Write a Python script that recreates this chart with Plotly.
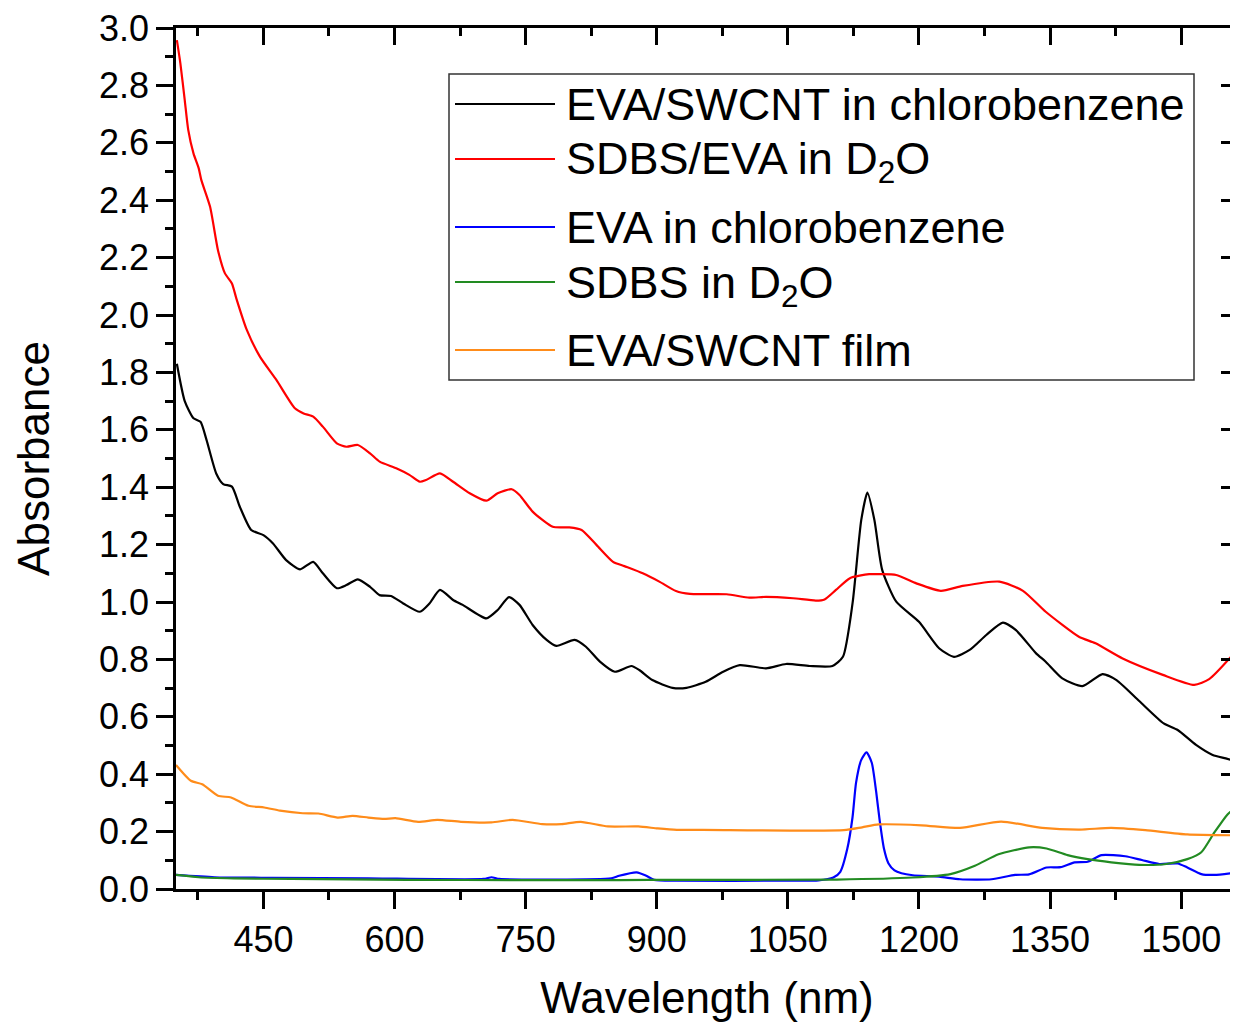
import plotly.graph_objects as go

# ---------------- data ----------------
series_names = [
    "EVA/SWCNT in chlorobenzene",
    "SDBS/EVA in D<sub>2</sub>O",
    "EVA in chlorobenzene",
    "SDBS in D<sub>2</sub>O",
    "EVA/SWCNT film",
]
series_colors = ["#000000", "#ff0000", "#0000ff", "#228b22", "#ff8c1a"]

black_x = [351, 360, 370, 378, 385, 396, 404, 414, 423, 436, 450, 461, 476, 492, 507, 518, 534, 545,
           558, 572, 583, 596, 610, 629, 640, 652, 667, 678, 705, 718, 731, 743, 758, 774, 785, 806,
           819, 835, 852, 871, 880, 895, 918, 934, 956, 976, 995, 1025, 1048, 1075, 1101, 1113, 1124,
           1134, 1141, 1149, 1158, 1174, 1200, 1223, 1240, 1258, 1277, 1296, 1311, 1334, 1345, 1364,
           1387, 1410, 1426, 1452, 1480, 1496, 1517, 1536, 1551, 1564]
black_y = [1.83, 1.70, 1.64, 1.628, 1.564, 1.448, 1.411, 1.402, 1.332, 1.251, 1.233, 1.204, 1.146, 1.114,
           1.140, 1.100, 1.048, 1.059, 1.079, 1.053, 1.024, 1.021, 0.995, 0.966, 0.995, 1.042, 1.007,
           0.990, 0.943, 0.972, 1.017, 0.990, 0.920, 0.868, 0.847, 0.868, 0.844, 0.792, 0.757, 0.777,
           0.763, 0.728, 0.701, 0.701, 0.722, 0.757, 0.780, 0.769, 0.784, 0.777, 0.777, 0.809, 0.995,
           1.286, 1.381, 1.286, 1.111, 1.001, 0.931, 0.839, 0.809, 0.833, 0.885, 0.928, 0.902, 0.821,
           0.792, 0.734, 0.707, 0.749, 0.728, 0.655, 0.577, 0.554, 0.502, 0.467, 0.455, 0.444]

red_x = [351, 355, 360, 364, 370, 376, 379, 389, 398, 406, 414, 419, 431, 446, 465, 486, 496, 507, 518,
         534, 545, 558, 572, 583, 602, 617, 629, 636, 652, 667, 686, 705, 718, 734, 743, 758, 781, 800,
         814, 831, 850, 863, 884, 903, 922, 938, 980, 1006, 1025, 1056, 1082, 1092, 1105, 1121, 1143,
         1155, 1174, 1197, 1225, 1250, 1292, 1319, 1345, 1383, 1402, 1433, 1479, 1515, 1532, 1564]
red_y = [2.958, 2.877, 2.749, 2.645, 2.563, 2.511, 2.470, 2.377, 2.226, 2.145, 2.110, 2.058, 1.948, 1.855,
         1.773, 1.675, 1.657, 1.646, 1.611, 1.553, 1.541, 1.547, 1.518, 1.489, 1.466, 1.443, 1.419,
         1.425, 1.448, 1.419, 1.379, 1.353, 1.379, 1.393, 1.373, 1.315, 1.262, 1.260, 1.251, 1.199,
         1.140, 1.125, 1.100, 1.071, 1.038, 1.028, 1.027, 1.015, 1.018, 1.013, 1.005, 1.009, 1.042,
         1.083, 1.097, 1.097, 1.094, 1.065, 1.039, 1.056, 1.071, 1.039, 0.966, 0.879, 0.856, 0.803,
         0.746, 0.711, 0.731, 0.833]

blue_x = [350, 394, 460, 570, 702, 711, 720, 848, 857, 877, 888, 897, 923, 1050, 1085, 1102, 1110,
          1118, 1124, 1128, 1134, 1140, 1146, 1151, 1155, 1160, 1165, 1172, 1180, 1193, 1223, 1247,
          1283, 1310, 1326, 1346, 1362, 1378, 1393, 1409, 1436, 1455, 1475, 1496, 1507, 1523, 1538, 1565]
blue_y = [0.049, 0.041, 0.039, 0.037, 0.035, 0.041, 0.035, 0.037, 0.046, 0.058, 0.046, 0.032, 0.029,
          0.029, 0.030, 0.040, 0.060, 0.140, 0.250, 0.370, 0.450, 0.476, 0.440, 0.340, 0.240, 0.140,
          0.090, 0.065, 0.055, 0.048, 0.043, 0.034, 0.034, 0.049, 0.051, 0.075, 0.076, 0.093, 0.095,
          0.118, 0.114, 0.101, 0.087, 0.089, 0.075, 0.052, 0.049, 0.058]

green_x = [350, 376, 416, 482, 614, 747, 857, 923, 1106, 1193, 1236, 1264, 1291, 1326, 1346, 1370, 1393,
           1420, 1452, 1483, 1507, 1523, 1538, 1553, 1565]
green_y = [0.049, 0.041, 0.037, 0.035, 0.032, 0.031, 0.031, 0.032, 0.033, 0.040, 0.052, 0.081, 0.121,
           0.145, 0.141, 0.118, 0.104, 0.093, 0.084, 0.087, 0.104, 0.128, 0.197, 0.260, 0.290]

orange_x = [350, 367, 380, 398, 413, 433, 451, 469, 495, 513, 535, 552, 570, 588, 601, 627, 649, 676,
            711, 735, 769, 791, 813, 844, 879, 901, 923, 953, 1114, 1135, 1154, 1203, 1247, 1294, 1341,
            1384, 1420, 1459, 1507, 1565]
orange_y = [0.432, 0.377, 0.365, 0.325, 0.319, 0.290, 0.284, 0.273, 0.264, 0.263, 0.249, 0.255, 0.249,
            0.244, 0.247, 0.234, 0.241, 0.234, 0.232, 0.241, 0.226, 0.226, 0.234, 0.218, 0.218, 0.211,
            0.206, 0.206, 0.205, 0.215, 0.225, 0.222, 0.213, 0.235, 0.213, 0.207, 0.213, 0.205, 0.190,
            0.187]

x_range = [350, 1565]
y_range = [0, 3.0]
x_title = "Wavelength (nm)"
y_title = "Absorbance"

series_x = [black_x, red_x, blue_x, green_x, orange_x]
series_y = [black_y, red_y, blue_y, green_y, orange_y]
# the last series is drawn on the mirrored (top/right) axes so that those axes get rendered
series_axes = [("x", "y"), ("x", "y"), ("x", "y"), ("x", "y"), ("x2", "y2")]

# ---------------- figure ----------------
FONT = "Liberation Sans, Arial, sans-serif"
OFF = 8                       # default page margin around the plot div
W, H = 1238 - OFF, 1024 - OFF
ML, MR, MT, MB = 176 - OFF, 0, 28 - OFF, 135
PW, PH = W - ML - MR, H - MT - MB

fig = go.Figure()
for name, xs, ys, col, (xa, ya) in zip(series_names, series_x, series_y, series_colors, series_axes):
    fig.add_trace(go.Scatter(x=xs, y=ys, mode="lines", name=name, showlegend=False,
                             xaxis=xa, yaxis=ya,
                             line=dict(color=col, width=2.2, shape="spline", smoothing=0.6)))

axis_common = dict(showline=True, linecolor="black", linewidth=2.5, showgrid=False, zeroline=False,
                   tickcolor="black", tickwidth=2.5, ticklen=17, automargin=False)

fig.update_layout(
    width=W, height=H,
    margin=dict(l=ML, r=MR, t=MT, b=MB, pad=0, autoexpand=False),
    paper_bgcolor="white", plot_bgcolor="white",
    font=dict(family=FONT, color="black"),
    xaxis=dict(range=x_range, tick0=450, dtick=150, ticks="outside", ticklabeloverflow="allow",
               minor=dict(dtick=75, ticks="outside", ticklen=8, tickwidth=2.5, tickcolor="black"),
               tickfont=dict(size=36), title=dict(text=x_title, font=dict(size=44), standoff=24),
               **axis_common),
    yaxis=dict(range=y_range, tick0=0, dtick=0.2, tickformat=".1f", ticks="outside",
               ticklabeloverflow="allow",
               minor=dict(dtick=0.1, ticks="outside", ticklen=8, tickwidth=2.5, tickcolor="black"),
               tickfont=dict(size=36), title=dict(text=y_title, font=dict(size=44), standoff=36),
               **axis_common),
    xaxis2=dict(range=x_range, overlaying="x", anchor="y2", side="top", tick0=450, dtick=150,
                ticks="inside", showticklabels=False,
                minor=dict(dtick=75, ticks="inside", ticklen=8, tickwidth=2.5, tickcolor="black"),
                **axis_common),
    yaxis2=dict(range=y_range, overlaying="y", anchor="x2", side="right", tick0=0, dtick=0.2,
                ticks="inside", showticklabels=False,
                minor=dict(dtick=0.1, ticks="inside", ticklen=8, tickwidth=2.5, tickcolor="black"),
                **axis_common),
)

# ---------------- legend (drawn manually to match the reference box) ----------------
# helpers convert screenshot pixel positions into paper coordinates
def px_x(p):
    return (p - OFF - ML) / PW

def px_y(p):
    return (H + OFF - MB - p) / PH

fig.add_shape(type="rect", xref="paper", yref="paper",
              x0=px_x(449), x1=px_x(1194), y0=px_y(380), y1=px_y(74),
              line=dict(color="#333333", width=1.5), fillcolor="white", layer="above")

row_px = [104, 159, 227, 282, 350]
for name, col, ry in zip(series_names, series_colors, row_px):
    fig.add_shape(type="line", xref="paper", yref="paper",
                  x0=px_x(455), x1=px_x(555), y0=px_y(ry), y1=px_y(ry),
                  line=dict(color=col, width=2), layer="above")
    has_sub = "<sub>" in name
    fig.add_annotation(xref="paper", yref="paper", x=px_x(564), y=px_y(ry),
                       xanchor="left", yanchor="middle", text=name, showarrow=False,
                       font=dict(size=45, family=FONT, color="black"),
                       yshift=(-3 if has_sub else 0))

fig.write_html("out.html")
